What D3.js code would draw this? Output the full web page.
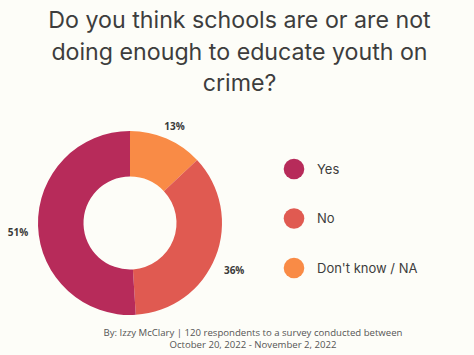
<!DOCTYPE html>
<html><head><meta charset="utf-8">
<script src="https://cdn.jsdelivr.net/npm/d3@7"></script>
<style>
html,body{margin:0;padding:0;background:#fdfdf8;}
svg{display:block;}
</style></head>
<body>
<script>
const categories = ["Don't know / NA", "No", "Yes"];
const values = [13, 36, 51];
const labels = ["13%", "36%", "51%"];
const legendOrder = ["Yes", "No", "Don't know / NA"];
const colors = ["#f98b46", "#e05a51", "#b72b5a"];
const titleLines = ["Do you think schools are or are not", "doing enough to educate youth on", "crime?"];
const footerLines = ["By: Izzy McClary | 120 respondents to a survey conducted between", "October 20, 2022 - November 2, 2022"];

const W = 474, H = 355;
const svg = d3.select("body").append("svg").attr("width", W).attr("height", H);
svg.append("rect").attr("width", W).attr("height", H).attr("fill", "#fdfdf8");

const color = d3.scaleOrdinal().domain(categories).range(colors);

svg.append("g").selectAll("text").data(titleLines).join("text")
  .attr("x", 239.5).attr("y", (d, i) => 28 + i * 31.5)
  .attr("text-anchor", "middle")
  .attr("font-family", "Inter, 'Liberation Sans', sans-serif")
  .attr("font-size", 23.2).attr("fill", "#3d3d3d")
  .text(d => d);

const cx = 130, cy = 223, R = 92, r = 46.5;
const pie = d3.pie().sort(null).value(d => d.v);
const data = pie(categories.map((c, i) => ({ c, v: values[i], l: labels[i] })));
const arc = d3.arc().innerRadius(r).outerRadius(R);
const g = svg.append("g").attr("transform", `translate(${cx},${cy})`);
g.selectAll("path").data(data).join("path")
  .attr("d", arc).attr("fill", d => color(d.data.c));

const labelArc = d3.arc().innerRadius(R + 20).outerRadius(R + 20);
g.selectAll("text").data(data).join("text")
  .attr("transform", d => {
    const [x, y] = labelArc.centroid(d);
    return `translate(${x},${y + 6})`;
  })
  .attr("text-anchor", "middle").attr("dy", "0.36em")
  .attr("font-family", "'Open Sans', sans-serif").attr("font-weight", "bold")
  .attr("font-size", 10).attr("fill", "#3a3a3a")
  .text(d => d.data.l);

const y = d3.scalePoint().domain(legendOrder).range([169, 268]);
const lg = svg.append("g");
lg.selectAll("circle").data(legendOrder).join("circle")
  .attr("cx", 294).attr("cy", d => y(d)).attr("r", 10.3)
  .attr("fill", d => color(d));
lg.selectAll("text").data(legendOrder).join("text")
  .attr("x", 317).attr("y", d => y(d)).attr("dy", "0.36em")
  .attr("font-family", "Inter, 'Liberation Sans', sans-serif")
  .attr("font-size", 13).attr("fill", "#3d3d3d")
  .text(d => d);

svg.append("g").selectAll("text").data(footerLines).join("text")
  .attr("x", 253).attr("y", (d, i) => 336 + i * 11.5)
  .attr("text-anchor", "middle")
  .attr("font-family", "'Open Sans', sans-serif")
  .attr("font-size", 9.6).attr("fill", "#555")
  .text(d => d);
</script>
</body></html>
